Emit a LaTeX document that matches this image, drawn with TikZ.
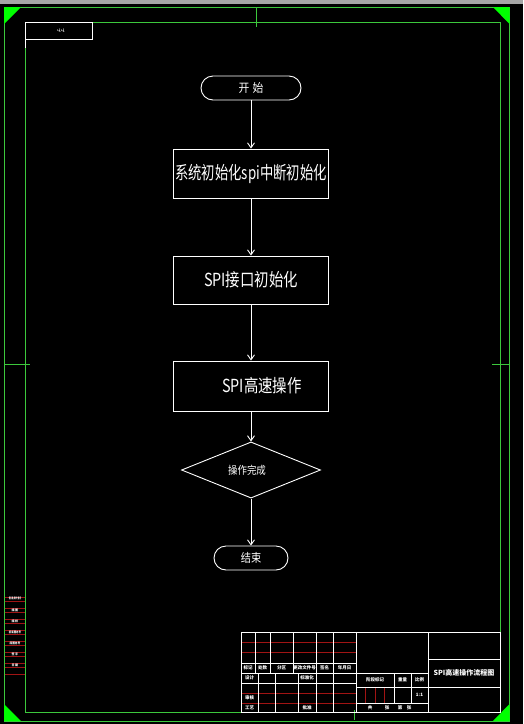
\documentclass[tikz,border=0pt]{standalone}
\usepackage{fontspec}
\usepackage{graphicx}
\setmainfont{Noto Sans CJK SC}
\newfontfamily\dejavu{DejaVu Sans}
\usetikzlibrary{shapes.geometric,arrows.meta}
\definecolor{frameg}{RGB}{60,200,60}
\definecolor{cornerg}{RGB}{0,255,0}
\definecolor{redl}{RGB}{160,20,20}
\begin{document}
\begin{tikzpicture}[x=1pt,y=-1pt,
  every node/.style={text=white},
  fbox/.style={draw=white, line width=0.9pt, minimum width=155pt, inner sep=0pt, font=\fontsize{18}{18}\selectfont},
  term/.style={draw=white, line width=0.9pt, rounded corners=12pt, minimum height=24pt, inner sep=0pt},
  dec/.style={draw=white, diamond, line width=0.9pt, minimum width=139pt, minimum height=56pt, inner sep=0pt},
  flow/.style={draw=white, line width=0.9pt, -{Straight Barb[length=5pt,width=7pt]}},
  tb/.style={draw=white, line width=0.8pt},
  tr/.style={draw=redl, line width=0.8pt},
  frm/.style={draw=frameg, line width=1pt},
  tiny/.style={font=\fontsize{4.5}{4.5}\selectfont\bfseries, inner sep=0pt},
  side/.style={font=\fontsize{3}{3}\selectfont\bfseries, inner sep=0pt}
]
\useasboundingbox (0,0) rectangle (523,724);
\fill[black] (0,0) rectangle (523,724);
\fill[gray!70] (0,0) rectangle (523,3.5);
% frames
\draw[frm] (4.5,7) rectangle (509,721);
\draw[frm] (25,22) rectangle (500,712);
\fill[cornerg] (4,7) -- (21,7) -- (4,24) -- cycle;
\fill[cornerg] (509.5,7) -- (493,7) -- (509.5,24) -- cycle;
\fill[cornerg] (4,721) -- (21,721) -- (4,704) -- cycle;
\fill[cornerg] (509.5,721) -- (493,721) -- (509.5,704) -- cycle;
\draw[frm] (256,7) -- (256,27);
\draw[frm] (354,710) -- (354,720);
\draw[frm] (4,364) -- (30,364);
\draw[frm] (492,364) -- (509,364);
% top-left box
\draw[white, line width=0.9pt] (25,22) rectangle (92,39);
\draw[white, line width=0.9pt] (25,39) -- (25,48);
\node[font=\dejavu\fontsize{5}{5}\selectfont, inner sep=0pt] (code) at (61,31) {ՎՎ};
% flowchart
\node[term, minimum width=100pt, font=\fontsize{12}{12}\selectfont] (s) at (251,88) {\scalebox{0.9}[1]{开\hspace{0.3em}始}};
\node[fbox, minimum height=49pt] (b1) at (251,173.5) {\scalebox{0.74}[1]{系统初始化spi中断初始化}};
\node[fbox, minimum height=48pt] (b2) at (251,280) {\scalebox{0.8}[1]{SPI接口初始化}};
\node[fbox, minimum height=50pt] (b3) at (251,386) {\hspace*{22pt}\scalebox{0.8}[1]{SPI高速操作}};
\node[dec, font=\fontsize{11}{11}\selectfont] (d) at (251,470) {\scalebox{0.86}[1]{操作完成}\hspace*{8pt}};
\node[term, minimum width=74pt, font=\fontsize{12}{12}\selectfont] (e) at (251,558) {\scalebox{0.85}[1]{结束}};
\draw[flow] (s.south) -- (b1.north);
\draw[flow] (b1.south) -- (b2.north);
\draw[flow] (b2.south) -- (b3.north);
\draw[flow] (b3.south) -- (d.north);
\draw[flow] (d.south) -- (e.north);
% left strip
\foreach \y in {597,601,608,612,619,623,630,634,641,645,652,656,663,667,674}{\draw[tr] (4.5,\y) -- (25,\y);}
\node[side] (l1) at (15,599) {\scalebox{0.6}[1]{借(通)用件登记}};
\node[side] (l2) at (15,610) {描\,图};
\node[side] (l3) at (15,621) {描\,校};
\node[side] (l4) at (15,632) {\scalebox{0.8}[1]{旧底图总号}};
\node[side] (l5) at (15,643) {\scalebox{0.9}[1]{底图总号}};
\node[side] (l6) at (15,654) {签\,字};
\node[side] (l7) at (15,665) {日\,期};
% title block
\foreach \y in {642,652,693,703}{\draw[tr] (241,\y) -- (356,\y);}
\draw[tr] (365,687) -- (365,703);
\draw[tr] (375,687) -- (375,703);
\draw[tr] (384,687) -- (384,703);
\draw[tb] (241,632) rectangle (500,712);
\draw[tb] (241,663) -- (356,663);
\draw[tb] (241,673) -- (428,673);
\draw[tb] (241,683) -- (356,683);
\draw[tb] (428,659) -- (500,659);
\draw[tb] (356,687) -- (500,687);
\draw[tb] (356,703) -- (428,703);
\foreach \x in {255,270,293,316,333}{\draw[tb] (\x,632) -- (\x,673);}
\foreach \x in {258,275,298,316,333}{\draw[tb] (\x,673) -- (\x,712);}
\draw[tb] (356,632) -- (356,712);
\draw[tb] (428,632) -- (428,712);
\draw[tb] (394,673) -- (394,703);
\draw[tb] (411,673) -- (411,703);
\node[tiny] (t1) at (248,668) {标记};
\node[tiny] (t2) at (262.5,668) {处数};
\node[tiny] (t3) at (281.5,668) {分区};
\node[tiny] (t4) at (304.5,668) {更改文件号};
\node[tiny] (t5) at (324.5,668) {签名};
\node[tiny] (t6) at (344.5,668) {年月日};
\node[tiny] (t7) at (249.5,678) {设计};
\node[tiny] (t8) at (307,678) {标准化};
\node[tiny] (t9) at (249.5,698) {审核};
\node[tiny] (t10) at (249.5,707.5) {工艺};
\node[tiny] (t11) at (307,707.5) {批准};
\node[tiny] (t12) at (375,680) {阶段标记};
\node[tiny] (t13) at (402.5,680) {重量};
\node[tiny] (t14) at (419.5,680) {比例};
\node[tiny] (t15) at (419.5,695) {1:1};
\node[tiny] (t16) at (370,707.5) {共};
\node[tiny] (t17) at (387,707.5) {张};
\node[tiny] (t18) at (400,707.5) {第};
\node[tiny] (t19) at (409,707.5) {张};
\node[font=\fontsize{7}{7}\selectfont\bfseries, inner sep=0pt] (title) at (464,673) {SPI高速操作流程图};
\end{tikzpicture}
\end{document}
